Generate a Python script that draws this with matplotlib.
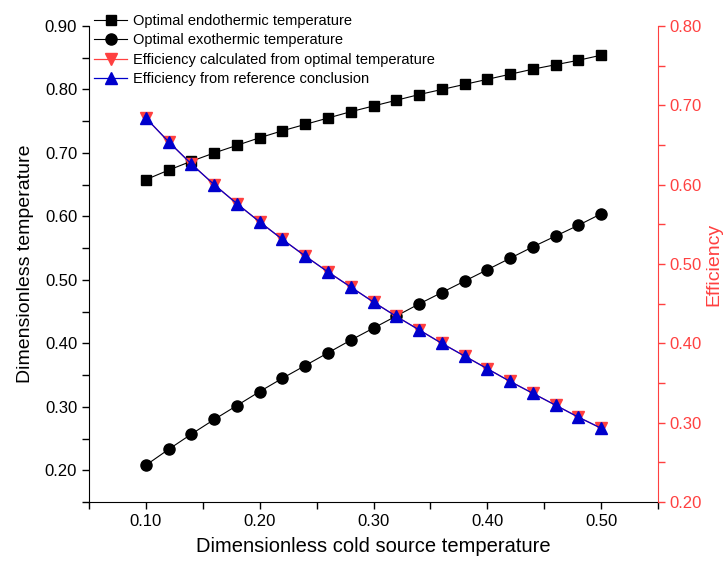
import matplotlib
matplotlib.use("Agg")
import matplotlib.pyplot as plt
from matplotlib.ticker import MultipleLocator, FormatStrFormatter

plt.rcParams['font.family'] = ['Liberation Sans', 'DejaVu Sans']

# dimensionless cold source temperature
tau = [0.10, 0.12, 0.14, 0.16, 0.18, 0.20, 0.22, 0.24, 0.26, 0.28, 0.30,
       0.32, 0.34, 0.36, 0.38, 0.40, 0.42, 0.44, 0.46, 0.48, 0.50]

# optimal temperatures (left axis)
t_endo = [0.658, 0.673, 0.687, 0.700, 0.712, 0.724, 0.735, 0.745, 0.755, 0.765, 0.774,
          0.783, 0.792, 0.800, 0.808, 0.816, 0.824, 0.832, 0.839, 0.846, 0.854]
t_exo = [0.208, 0.233, 0.257, 0.280, 0.302, 0.324, 0.345, 0.365, 0.385, 0.405, 0.424,
         0.443, 0.462, 0.480, 0.498, 0.516, 0.534, 0.552, 0.569, 0.586, 0.604]

# efficiencies (right axis)
eff_opt = [0.684, 0.654, 0.626, 0.600, 0.576, 0.553, 0.531, 0.510, 0.490, 0.471, 0.452,
           0.434, 0.417, 0.400, 0.384, 0.368, 0.352, 0.337, 0.322, 0.307, 0.293]
eff_ref = [0.684, 0.654, 0.626, 0.600, 0.576, 0.553, 0.531, 0.510, 0.490, 0.471, 0.452,
           0.434, 0.417, 0.400, 0.384, 0.368, 0.352, 0.337, 0.322, 0.307, 0.293]

red = '#ff4040'
blue = '#0000cc'

fig = plt.figure(figsize=(7.28, 5.62), dpi=100)
ax = fig.add_axes([0.1223, 0.1068, 0.7815, 0.8469])
ax2 = ax.twinx()

l1, = ax.plot(tau, t_endo, color='black', lw=0.8, marker='s', ms=7.5,
              label='Optimal endothermic temperature')
l2, = ax.plot(tau, t_exo, color='black', lw=0.8, marker='o', ms=8,
              label='Optimal exothermic temperature')
l3, = ax2.plot(tau, eff_opt, color=red, lw=0.9, marker='v', ms=8,
               label='Efficiency calculated from optimal temperature')
l4, = ax2.plot(tau, eff_ref, color=blue, lw=0.9, marker='^', ms=8,
               label='Efficiency from reference conclusion')

ax.set_xlim(0.05, 0.55)
ax.set_ylim(0.15, 0.90)
ax2.set_ylim(0.20, 0.80)

ax.xaxis.set_major_locator(MultipleLocator(0.1))
ax.xaxis.set_minor_locator(MultipleLocator(0.05))
ax.yaxis.set_major_locator(MultipleLocator(0.1))
ax.yaxis.set_minor_locator(MultipleLocator(0.05))
ax2.yaxis.set_major_locator(MultipleLocator(0.1))
ax2.yaxis.set_minor_locator(MultipleLocator(0.05))
for a in (ax, ax2):
    a.xaxis.set_major_formatter(FormatStrFormatter('%.2f'))
    a.yaxis.set_major_formatter(FormatStrFormatter('%.2f'))

ax.tick_params(which='both', direction='out', length=5, width=1, labelsize=12)
ax2.tick_params(which='both', direction='out', length=5, width=1, labelsize=12,
                colors=red)

for a in (ax, ax2):
    a.spines['top'].set_visible(False)
ax.spines['right'].set_visible(False)
ax2.spines['left'].set_visible(False)
ax2.spines['bottom'].set_visible(False)
ax2.spines['right'].set_color(red)

ax.set_xlabel('Dimensionless cold source temperature', fontsize=14.5, labelpad=6)
ax.set_ylabel('Dimensionless temperature', fontsize=14, labelpad=8)
ax2.set_ylabel('Efficiency', fontsize=14, color=red, labelpad=2)

fig.legend(handles=[l1, l2, l3, l4], loc='upper left',
           bbox_to_anchor=(0.121, 0.986), frameon=False, fontsize=10.5,
           handlelength=2.3, handletextpad=0.4, labelspacing=0.38,
           borderaxespad=0)

fig.savefig('out.png', dpi=100)
